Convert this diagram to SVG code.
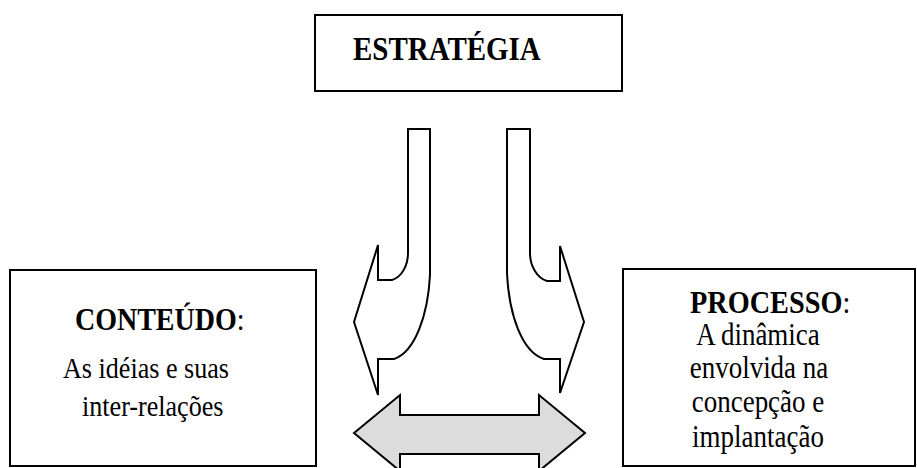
<svg xmlns="http://www.w3.org/2000/svg" width="917" height="468" viewBox="0 0 917 468">
<style>
.box{fill:#fff;stroke:#000;stroke-width:2}
.arr{fill:#fff;stroke:#000;stroke-width:2;stroke-linejoin:miter}
.dbl{fill:#dcdcdc;stroke:#000;stroke-width:2}
.t{font-family:"Liberation Serif","Times New Roman",serif;fill:#000}
.b{font-weight:bold}
</style>
<rect width="917" height="468" fill="#fff"/>
<g id="estrategia">
<rect class="box" x="315" y="15" width="307" height="76"/>
<text class="t b" transform="translate(353,60) scale(0.87,1)" font-size="33.3">ESTRATÉGIA</text>
</g>
<g id="conteudo">
<rect class="box" x="10" y="270" width="306" height="196"/>
<text class="t" transform="translate(75,330) scale(0.87,1)" font-size="32.2"><tspan class="b">CONTEÚDO</tspan>:</text>
<text class="t" transform="translate(63,378) scale(0.87,1)" font-size="30">As idéias e suas</text>
<text class="t" transform="translate(82,416) scale(0.87,1)" font-size="30">inter-relações</text>
</g>
<g id="processo">
<rect class="box" x="623" y="269" width="292" height="197"/>
<text class="t" transform="translate(690,313) scale(0.87,1)" font-size="32.5"><tspan class="b">PROCESSO</tspan>:</text>
<text class="t" transform="translate(758,345) scale(0.87,1)" font-size="31" text-anchor="middle">A dinâmica</text>
<text class="t" transform="translate(759,378) scale(0.87,1)" font-size="31" text-anchor="middle">envolvida na</text>
<text class="t" transform="translate(758,412) scale(0.87,1)" font-size="31" text-anchor="middle">concepção e</text>
<text class="t" transform="translate(758,447) scale(0.87,1)" font-size="31" text-anchor="middle">implantação</text>
</g>
<g id="connectors">
<path class="arr" d="M408,129 H430 V275 C428,315 415,352 394,359 H378 V395 L354,322 L378,245 V280 H392 C402,277 408,265 408,253 Z"/>
<path class="arr" d="M507,129 H530 V253 C530,266 537,278 547,281 H560 V246 L584,322 L560,393 V359 H544 C522,352 509,315 507,273 Z"/>
<path class="dbl" d="M354,433 L400,395 V415 H539 V395 L585,433 L539,471 V454 H400 V471 Z"/>
</g>
</svg>
